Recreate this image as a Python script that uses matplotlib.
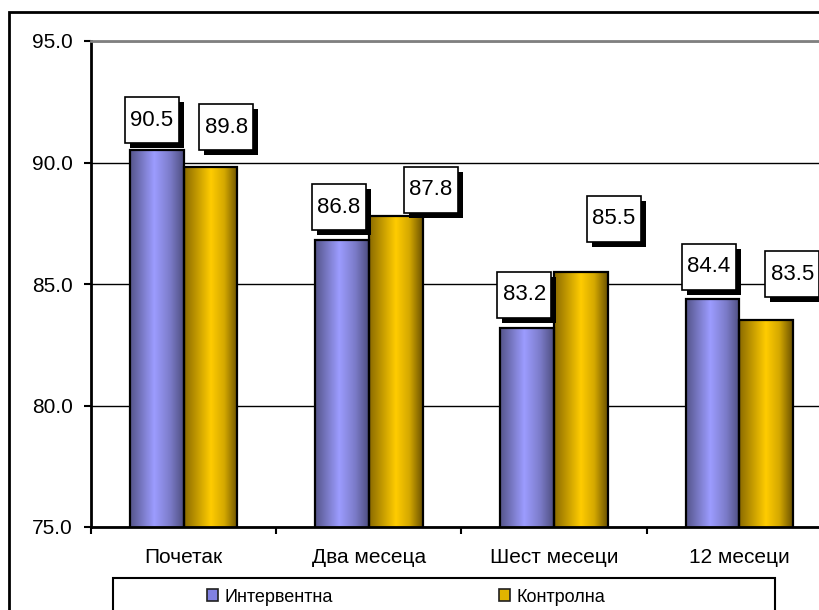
import numpy as np
import matplotlib
matplotlib.use("Agg")
import matplotlib.pyplot as plt
from matplotlib.colors import LinearSegmentedColormap
from matplotlib.patches import Rectangle, Patch
from matplotlib.transforms import IdentityTransform

# podaci
categories = ["Почетак", "Два месеца", "Шест месеци", "12 месеци"]
series_names = ["Интервентна", "Контролна"]
intervention = [90.5, 86.8, 83.2, 84.4]
control = [89.8, 87.8, 85.5, 83.5]
yticks = [75.0, 80.0, 85.0, 90.0, 95.0]

# pomeraji etiketa (u pikselima, u odnosu na vrh stubica)
label_shift = [
    [(-5, 30), (-3, 33), (-3, 33), (-4, 32)],
    [(16, 40), (35, 26), (33, 53), (26, 46)],
]

plt.rcParams['font.family'] = ['Liberation Sans', 'DejaVu Sans']

blue_cmap = LinearSegmentedColormap.from_list(
    "blue", [(0, "#55558a"), (0.45, "#9c9cff"), (0.75, "#7b7bc8"), (1, "#4e4e80")])
gold_cmap = LinearSegmentedColormap.from_list(
    "gold", [(0, "#8a6a00"), (0.5, "#ffcc00"), (0.75, "#d4a800"), (1, "#6c5200")])
legend_colors = ["#8080e0", "#e0b400"]

fig = plt.figure(figsize=(8.2, 6.1), dpi=100)
ax = fig.add_axes([91 / 820, 83 / 610, 741 / 820, 486 / 610])

x = np.arange(len(categories))
w = 0.29
grad = np.linspace(0, 1, 256).reshape(1, -1)

groups = [(intervention, -w / 2, blue_cmap), (control, w / 2, gold_cmap)]
for vals, off, cmap in groups:
    for xi, v in zip(x, vals):
        x0 = xi + off - w / 2
        ax.imshow(grad, extent=(x0, x0 + w, yticks[0], v), aspect='auto',
                  cmap=cmap, zorder=2, interpolation='bilinear')
    ax.bar(x + off, vals, width=w, fill=False, edgecolor='black',
           linewidth=1.6, zorder=3)

ax.set_xlim(-0.5, len(categories) - 0.5)
ax.set_ylim(yticks[0], yticks[-1])
ax.set_yticks(yticks)
ax.set_yticklabels([f"{t:.1f}" for t in yticks])
ax.set_xticks(x)
ax.set_xticklabels(categories)
ax.set_xticks(np.arange(len(categories) + 1) - 0.5, minor=True)

ax.tick_params(axis='y', direction='out', length=5, width=1.5, pad=8,
               labelsize=15)
ax.tick_params(axis='x', which='major', length=0, pad=15, labelsize=15)
ax.tick_params(axis='x', which='minor', direction='out', length=5, width=1.5)

ax.yaxis.grid(True, color='black', linewidth=1)
ax.set_axisbelow(True)
ax.spines['right'].set_visible(False)
ax.spines['top'].set_color('#808080')
ax.spines['top'].set_linewidth(2)
ax.spines['left'].set_linewidth(2)
ax.spines['bottom'].set_linewidth(2)

# etikete sa senkom
idt = IdentityTransform()
bw, bh, sh = 54, 46, 5
for s, (vals, off, _) in enumerate(groups):
    for i, v in enumerate(vals):
        px, py = ax.transData.transform((x[i] + off, v))
        cx = px + label_shift[s][i][0]
        cy = py + label_shift[s][i][1]
        ax.add_patch(Rectangle((cx - bw / 2 + sh, cy - bh / 2 - sh), bw, bh,
                               facecolor='black', edgecolor='none',
                               transform=idt, clip_on=False, zorder=5))
        ax.add_patch(Rectangle((cx - bw / 2, cy - bh / 2), bw, bh,
                               facecolor='white', edgecolor='black',
                               linewidth=1.2, transform=idt, clip_on=False,
                               zorder=6))
        ax.text(cx, cy, f"{v:.1f}", transform=idt, ha='center', va='center',
                fontsize=16, zorder=7)

# okvir slike
fig.add_artist(Rectangle((9, -20), 900, 610 - 12 + 20, fill=False,
                         edgecolor='black', linewidth=2, transform=idt))

# legenda
fig.add_artist(Rectangle((113, -10), 662, 42, fill=False, edgecolor='black',
                         linewidth=1.5, transform=idt))
handles = [Patch(facecolor=c, edgecolor='#202020', linewidth=1.2)
           for c in legend_colors]
fig.legend(handles, series_names, loc='center',
           bbox_to_anchor=(406 / 820, 13 / 610), ncol=2, frameon=False,
           fontsize=13, handlelength=0.6, handleheight=0.6,
           handletextpad=0.35, columnspacing=9.2, borderpad=0)

fig.savefig("out.png", dpi=100)
